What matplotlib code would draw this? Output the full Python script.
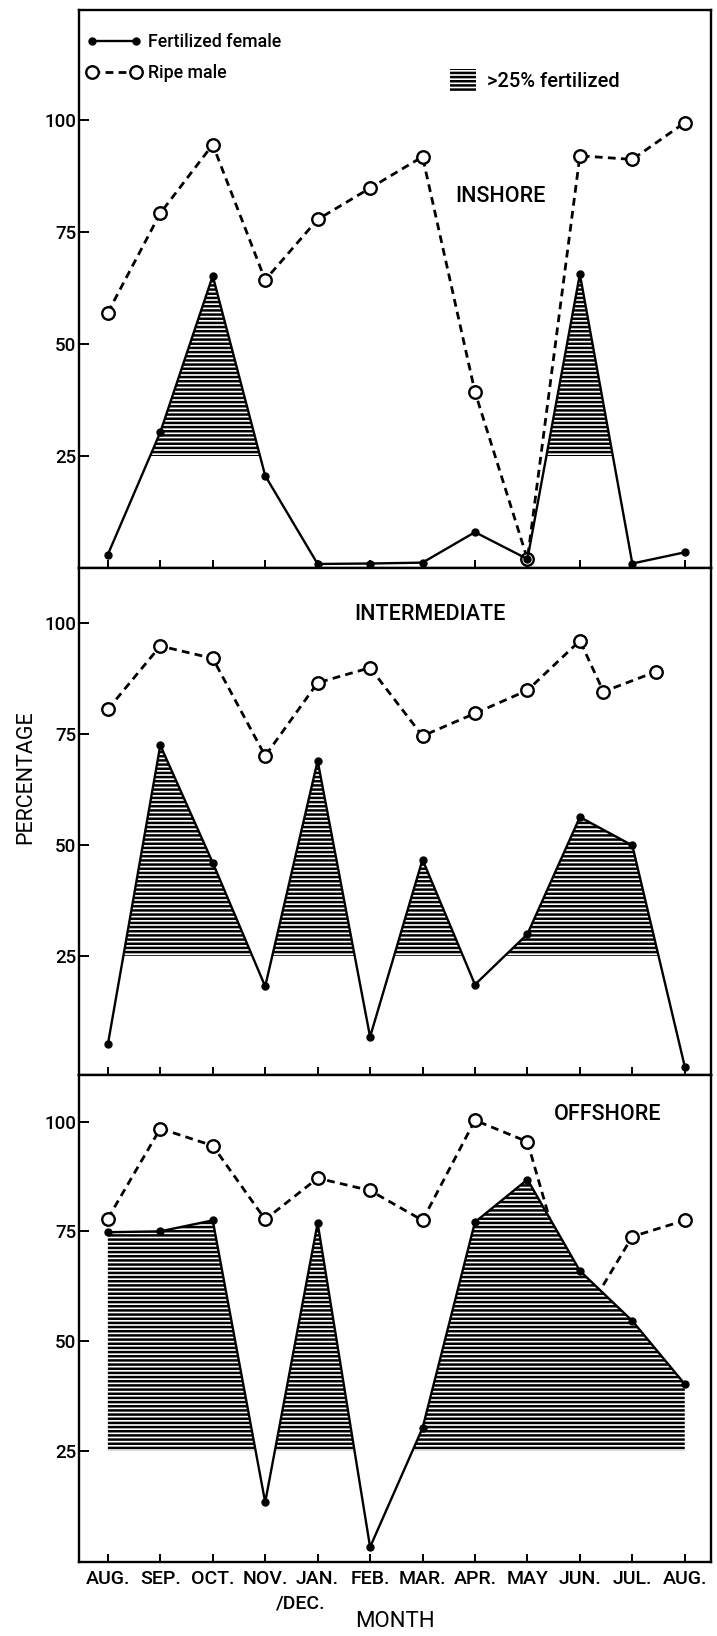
import matplotlib
matplotlib.use("Agg")
import matplotlib.pyplot as plt
from matplotlib.lines import Line2D
from matplotlib.patches import Patch
import numpy as np

# ---------------- data ----------------
months = ["AUG.", "SEP.", "OCT.", "NOV.", "JAN.", "FEB.", "MAR.",
          "APR.", "MAY", "JUN.", "JUL.", "AUG."]
month_pos = [0, 1, 2, 3, 4, 5, 6, 7, 8, 9, 10, 11]
yticks = [25, 50, 75, 100]
threshold = 25

inshore_female = [3.0, 30.3, 65.2, 20.6, 0.9, 1.0, 1.2, 8.0, 2.0, 65.6, 1.0, 3.5]
inshore_male = [57.0, 79.2, 94.5, 64.3, 77.8, 84.8, 91.8, 39.3, 2.0, 92.0, 91.2, 99.4]

inter_female = [5.0, 72.5, 46.0, 18.1, 69.0, 6.7, 46.7, 18.5, 29.9, 56.3, 49.9, 0.0]
inter_male = [80.6, 94.9, 92.1, 70.1, 86.6, 90.0, 74.6, 79.7, 84.9, 96.1, 84.6, 89.1]
inter_male_pos = [0, 1, 2, 3, 4, 5, 6, 7, 8, 9, 9.45, 10.45]

offshore_female = [74.8, 75.0, 77.5, 13.3, 76.9, 3.1, 30.2, 77.1, 86.8, 66.0, 54.6, 40.2]
offshore_male = [77.9, 98.4, 94.5, 77.7, 87.1, 84.3, 77.5, 100.3, 95.4, 53.9, 73.8, 77.5]

# ---------------- style ----------------
plt.rcParams['font.family'] = ['Roboto', 'DejaVu Sans']
plt.rcParams['font.weight'] = 'medium'
plt.rcParams['hatch.linewidth'] = 1.8

W, H = 717, 1636
fig = plt.figure(figsize=(W / 100, H / 100), dpi=100)
fig.patch.set_facecolor('white')

left_px, right_px = 79, 711
def rect(top_px, bot_px):
    return [left_px / W, 1 - bot_px / H, (right_px - left_px) / W, (bot_px - top_px) / H]

male_kw = dict(color='black', lw=2.0, ls=(0, (2.8, 1.9)), marker='o', ms=9,
               mfc='white', mec='black', mew=1.7)
female_kw = dict(color='black', lw=1.7, ls='-', marker='o', ms=5)

panels = [
    dict(name='INSHORE', female=inshore_female, male=inshore_male, male_x=month_pos,
         rect=rect(10, 568), ylim=(0, 124.55), title_xy=(7.49, 83.0)),
    dict(name='INTERMEDIATE', female=inter_female, male=inter_male, male_x=inter_male_pos,
         rect=rect(568, 1075), ylim=(-1.9, 112.5), title_xy=(6.14, 102.0)),
    dict(name='OFFSHORE', female=offshore_female, male=offshore_male, male_x=month_pos,
         rect=rect(1075, 1562), ylim=(-0.3, 110.6), title_xy=(9.53, 101.7)),
]

axes = []
for i, p in enumerate(panels):
    ax = fig.add_axes(p['rect'])
    axes.append(ax)
    x = np.array(month_pos, dtype=float)
    fem = np.array(p['female'])
    ax.plot(p['male_x'], p['male'], zorder=2, clip_on=False, **male_kw)
    ax.fill_between(x, threshold, fem, where=fem >= threshold, interpolate=True,
                    facecolor='white', edgecolor='black', hatch='----',
                    linewidth=0, zorder=3)
    ax.plot(x, fem, zorder=4, clip_on=False, **female_kw)

    ax.set_xlim(-0.55, 11.5)
    ax.set_ylim(*p['ylim'])
    ax.set_xticks(month_pos)
    ax.set_yticks(yticks)
    ax.tick_params(axis='both', direction='in', width=1.4, top=False, right=False)
    ax.tick_params(axis='x', length=6, pad=6, labelsize=14)
    ax.tick_params(axis='y', length=7, pad=2, labelsize=13.5)
    for s in ax.spines.values():
        s.set_linewidth(1.7)
    if i < 2:
        ax.tick_params(axis='x', labelbottom=False)
    else:
        ax.set_xticklabels(months)
    ax.text(p['title_xy'][0], p['title_xy'][1], p['name'], ha='center',
            va='center', fontsize=15.5)

ax1, ax2, ax3 = axes

# legends
h_f = Line2D([], [], **female_kw)
h_m = Line2D([], [], **male_kw)
leg1 = ax1.legend([h_f, h_m], ['Fertilized female', 'Ripe male'], loc='upper left',
                  bbox_to_anchor=(0.012, 0.958), frameon=False, numpoints=2,
                  handlelength=3.1, handletextpad=0.35, labelspacing=0.72,
                  borderpad=0, borderaxespad=0, fontsize=12.8)
ax1.add_artist(leg1)
h_h = Patch(facecolor='white', edgecolor='black', hatch='----', lw=0)
ax1.legend([h_h], ['>25% fertilized'], loc='upper left',
           bbox_to_anchor=(0.587, 0.895), frameon=False, handlelength=1.3,
           handleheight=1.4, handletextpad=0.55, borderpad=0, borderaxespad=0,
           fontsize=14.5)

# second line of the NOV./DEC. label
ax3.text(3.68, -0.086, '/DEC.', transform=ax3.get_xaxis_transform(),
         ha='center', va='center', fontsize=14)

ax3.set_xlabel('MONTH', fontsize=16, va='center')
ax3.xaxis.set_label_coords(0.5, -0.123)
ax2.set_ylabel('PERCENTAGE', fontsize=15.5, va='center')
ax2.yaxis.set_label_coords(-0.085, 0.588)

fig.savefig('out.png', dpi=100, facecolor='white')
